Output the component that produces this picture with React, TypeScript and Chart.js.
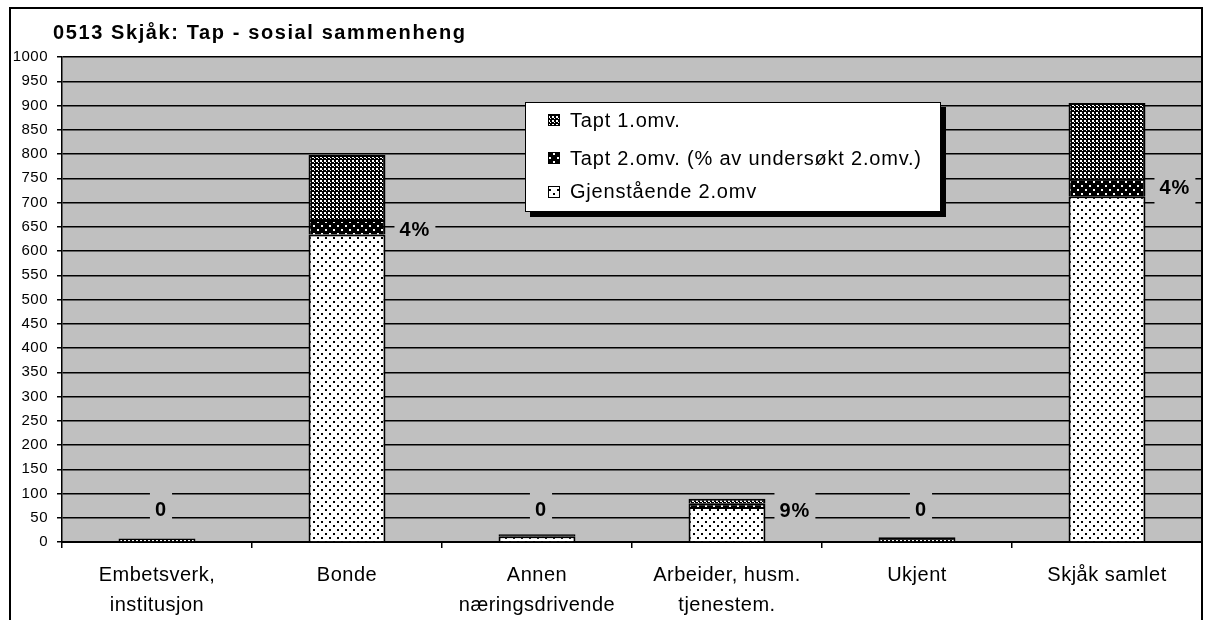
import React, { useEffect, useRef } from "react";
import { Chart, registerables } from "chart.js";

Chart.register(...registerables);

const FONT = "'Liberation Sans', Arial, sans-serif";

const titleText = "0513 Skjåk: Tap - sosial sammenheng";
const categories = [
  ["Embetsverk,", "institusjon"],
  ["Bonde"],
  ["Annen", "næringsdrivende"],
  ["Arbeider, husm.", "tjenestem."],
  ["Ukjent"],
  ["Skjåk samlet"],
];
const gjenstaende = [0, 634, 12, 72, 0, 713];
const tapt2 = [0, 30, 0, 7, 0, 36];
const tapt1 = [7, 134, 4, 10, 10, 156];
const pctLabels = ["0", "4%", "0", "9%", "0", "4%"];
const pctLabelValues = [66, 643, 65, 63, 66, 729];
const legendLabels = ["Tapt 1.omv.", "Tapt 2.omv. (% av undersøkt 2.omv.)", "Gjenstående 2.omv"];
const yMin = 0;
const yMax = 1000;
const yStep = 50;

function makePattern(kind: string): CanvasPattern | string {
  const c = document.createElement("canvas");
  const g = c.getContext("2d");
  if (!g) return "#888";
  if (kind === "dots") {
    c.width = 8; c.height = 8;
    g.fillStyle = "#fff"; g.fillRect(0, 0, 8, 8);
    g.fillStyle = "#000";
    g.fillRect(1, 1, 2, 2); g.fillRect(5, 5, 2, 2);
  } else if (kind === "blackdots") {
    c.width = 8; c.height = 8;
    g.fillStyle = "#000"; g.fillRect(0, 0, 8, 8);
    g.fillStyle = "#fff";
    g.fillRect(1, 1, 2, 2); g.fillRect(5, 5, 2, 2);
  } else {
    c.width = 4; c.height = 4;
    g.fillStyle = "#000"; g.fillRect(0, 0, 4, 4);
    g.fillStyle = "#fff";
    g.fillRect(0, 0, 2, 2); g.fillRect(2, 2, 1, 1);
  }
  return g.createPattern(c, "repeat") || "#888";
}

export default function App() {
  const ref = useRef<HTMLCanvasElement | null>(null);
  useEffect(() => {
    if (!ref.current) return;
    const pDots = makePattern("dots");
    const pBlack = makePattern("blackdots");
    const pCheck = makePattern("check");
    const legendFills = [pCheck, pBlack, pDots];

    const plugin = {
      id: "custom",
      beforeDraw(chart: any) {
        const { ctx, chartArea: a } = chart;
        ctx.save();
        ctx.fillStyle = "#fff";
        ctx.fillRect(0, 0, chart.width, chart.height);
        ctx.fillStyle = "#C0C0C0";
        ctx.fillRect(a.left, a.top, a.right - a.left, a.bottom - a.top);
        ctx.restore();
        ctx.letterSpacing = "0.5px";
      },
      afterDatasetsDraw(chart: any) {
        const { ctx } = chart;
        const xs = chart.scales.x;
        const ys = chart.scales.y;
        const meta = chart.getDatasetMeta(0);
        ctx.save();
        ctx.font = `bold 20px ${FONT}`;
        ctx.letterSpacing = "1px";
        ctx.textAlign = "center";
        ctx.textBaseline = "middle";
        pctLabels.forEach((t, i) => {
          const cx = xs.getPixelForValue(i);
          const bw = meta.data[i] ? meta.data[i].width : 0;
          const w = ctx.measureText(t).width;
          const px = t.endsWith("%") ? cx + bw / 2 + 14 + w / 2 : cx + 4;
          const py = ys.getPixelForValue(pctLabelValues[i]);
          ctx.fillStyle = "#C0C0C0";
          ctx.fillRect(px - w / 2 - 5, py - 19, w + 10, 38);
          ctx.fillStyle = "#000";
          ctx.fillText(t, px, py);
        });
        ctx.restore();
      },
      afterDraw(chart: any) {
        const { ctx } = chart;
        ctx.save();
        // title
        ctx.font = `bold 20px ${FONT}`;
        ctx.letterSpacing = "1.6px";
        ctx.textAlign = "left";
        ctx.textBaseline = "alphabetic";
        ctx.fillStyle = "#000";
        ctx.fillText(titleText, 53, 39);
        // legend
        const lx = 525, ly = 102, lw = 416, lh = 110;
        ctx.fillStyle = "#000";
        ctx.fillRect(lx + 5, ly + 5, lw, lh);
        ctx.fillStyle = "#fff";
        ctx.fillRect(lx, ly, lw, lh);
        ctx.strokeStyle = "#000";
        ctx.lineWidth = 1;
        ctx.strokeRect(lx + 0.5, ly + 0.5, lw - 1, lh - 1);
        const rows = [120, 158, 191.5];
        ctx.font = `20px ${FONT}`;
        ctx.letterSpacing = "0.8px";
        ctx.textBaseline = "middle";
        legendLabels.forEach((t, i) => {
          const y = rows[i];
          ctx.fillStyle = legendFills[i] as any;
          ctx.fillRect(548, Math.round(y - 6), 12, 12);
          ctx.strokeStyle = "#000";
          ctx.strokeRect(548.5, Math.round(y - 6) + 0.5, 11, 11);
          ctx.fillStyle = "#000";
          ctx.fillText(t, 570, y + 1);
        });
        // outer frame
        ctx.strokeStyle = "#000";
        ctx.lineWidth = 2;
        ctx.strokeRect(10, 8, 1192, 640);
        ctx.restore();
      },
    };

    const chart = new Chart(ref.current, {
      type: "bar",
      data: {
        labels: categories,
        datasets: [
          { label: legendLabels[2], data: gjenstaende, backgroundColor: pDots as any, borderColor: "#000", borderWidth: 2 },
          { label: legendLabels[1], data: tapt2, backgroundColor: pBlack as any, borderColor: "#000", borderWidth: 2 },
          { label: legendLabels[0], data: tapt1, backgroundColor: pCheck as any, borderColor: "#000", borderWidth: 2 },
        ],
      },
      options: {
        animation: false,
        responsive: false,
        events: [],
        layout: { padding: { left: 0, top: 57, right: 3, bottom: 0 } },
        datasets: { bar: { barPercentage: 0.405, categoryPercentage: 1 } },
        plugins: { legend: { display: false }, title: { display: false }, tooltip: { enabled: false } },
        scales: {
          x: {
            stacked: true,
            afterFit: (s: any) => { s.height = 78; },
            grid: { display: true, drawOnChartArea: false, offset: true, tickLength: 6, color: "#000", lineWidth: 1.5 },
            border: { display: true, color: "#000", width: 2 },
            ticks: { color: "#000", font: { family: FONT, size: 20, lineHeight: 1.5 }, padding: 12, maxRotation: 0, autoSkip: false },
          },
          y: {
            stacked: true,
            min: yMin,
            max: yMax,
            afterFit: (s: any) => { s.width = 62; },
            grid: { color: "#000", lineWidth: 1.5, tickLength: 5 },
            border: { display: true, color: "#000", width: 1.5 },
            ticks: {
              stepSize: yStep,
              color: "#000",
              font: { family: FONT, size: 15 },
              padding: 9,
              callback: (v: any) => String(v),
            },
          },
        },
      },
      plugins: [plugin],
    } as any);
    return () => chart.destroy();
  }, []);
  return (
    <div style={{ position: "absolute", left: 0, top: 0, width: 1205, height: 620 }}>
      <canvas ref={ref} width={1205} height={620} style={{ display: "block" }} />
    </div>
  );
}
